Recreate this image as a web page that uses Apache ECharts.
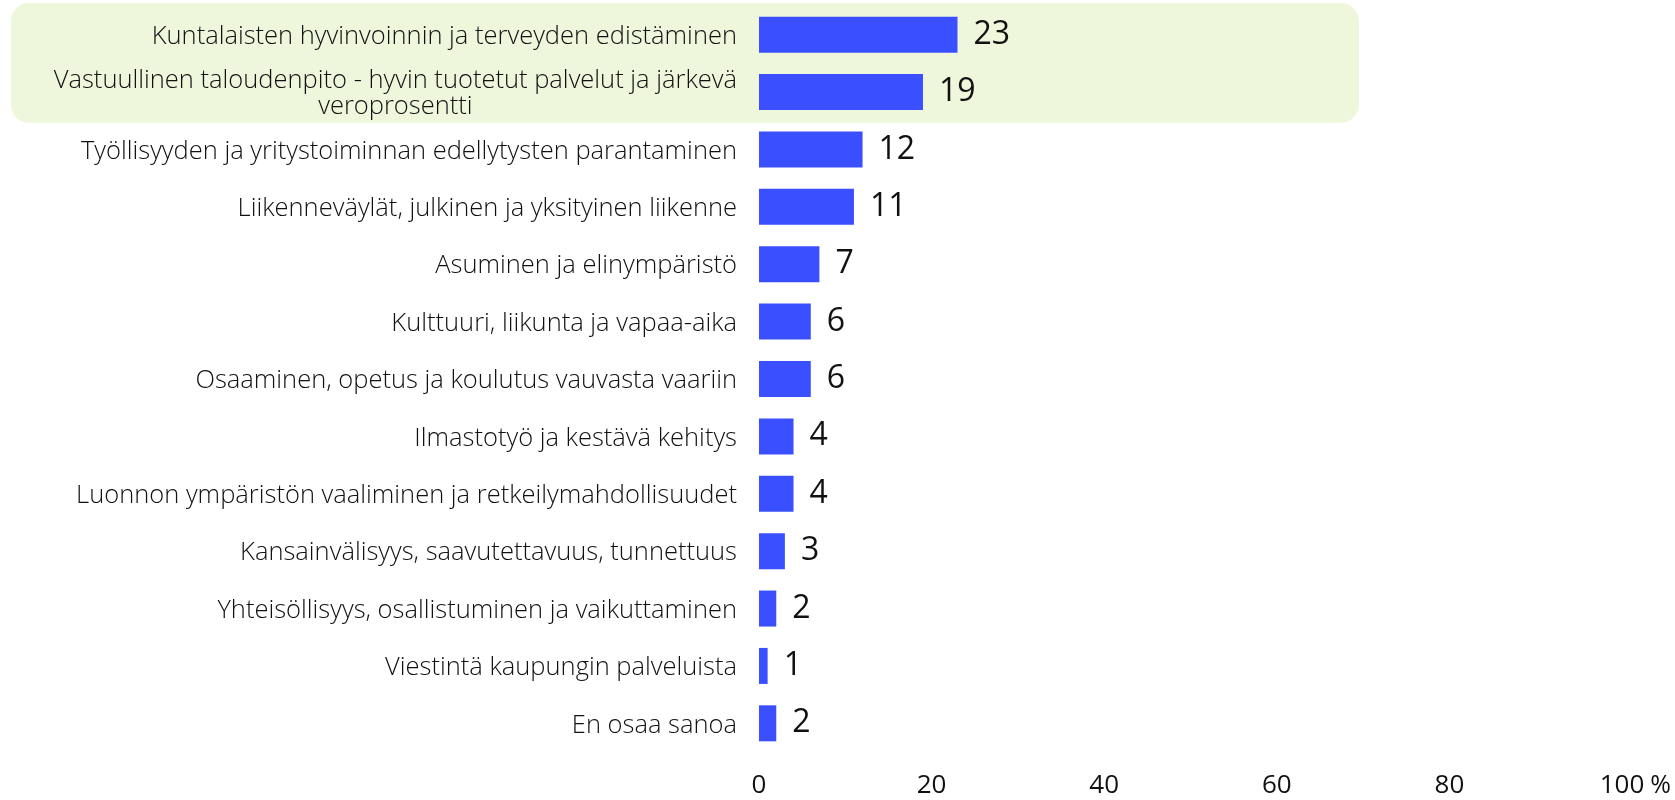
<!DOCTYPE html>
<html>
<head>
<meta charset="utf-8">
<script src="https://cdn.jsdelivr.net/npm/echarts@6/dist/echarts.min.js"></script>
<style>
  html, body { margin: 0; padding: 0; background: #fff; }
  #main { width: 1675px; height: 800px; }
</style>
</head>
<body>
<div id="main"></div>
<script>
const categories = [
  'Kuntalaisten hyvinvoinnin ja terveyden edistäminen',
  'Vastuullinen taloudenpito - hyvin tuotetut palvelut ja järkevä veroprosentti',
  'Työllisyyden ja yritystoiminnan edellytysten parantaminen',
  'Liikenneväylät, julkinen ja yksityinen liikenne',
  'Asuminen ja elinympäristö',
  'Kulttuuri, liikunta ja vapaa-aika',
  'Osaaminen, opetus ja koulutus vauvasta vaariin',
  'Ilmastotyö ja kestävä kehitys',
  'Luonnon ympäristön vaaliminen ja retkeilymahdollisuudet',
  'Kansainvälisyys, saavutettavuus, tunnettuus',
  'Yhteisöllisyys, osallistuminen ja vaikuttaminen',
  'Viestintä kaupungin palveluista',
  'En osaa sanoa'
]
const values = [23, 19, 12, 11, 7, 6, 6, 4, 4, 3, 2, 1, 2]
const highlighted = [0, 1] // rows on the green background

const FONT = '"Open Sans", Lato, sans-serif'
const MAX_CHARS = 64

// break long labels at word boundaries, lines centred like the original
const wrapLabel = v => {
  if (v.length <= MAX_CHARS) return v
  const lines = []
  let cur = ''
  v.split(' ').forEach(w => {
    if (cur && (cur + ' ' + w).length > MAX_CHARS) {
      lines.push(cur)
      cur = w
    } else {
      cur = cur ? cur + ' ' + w : w
    }
  })
  lines.push(cur)
  return lines.map(l => '{c|' + l + '}').join('\n')
}

const chart = echarts.init(document.getElementById('main'))

const option = {
  animation: false,
  grid: {
    left: 759,
    right: 53,
    top: 6,
    bottom: 48
  },
  xAxis: {
    type: 'value',
    min: 0,
    max: 100,
    interval: 20,
    name: '%',
    nameLocation: 'end',
    nameGap: 27,
    nameTextStyle: {
      color: '#111',
      fontFamily: FONT,
      fontSize: 25,
      verticalAlign: 'top',
      padding: [21, 0, 0, 0]
    },
    axisLine: { show: false },
    axisTick: { show: false },
    splitLine: { show: false },
    axisLabel: {
      color: '#111',
      fontFamily: FONT,
      fontSize: 26,
      margin: 21
    }
  },
  yAxis: {
    type: 'category',
    inverse: true,
    data: categories,
    axisLine: { show: false },
    axisTick: { show: false },
    axisLabel: {
      color: '#111',
      fontFamily: FONT,
      fontWeight: 300,
      fontSize: 25.5,
      margin: 22,
      lineHeight: 26,
      padding: [4, 0, 0, 0],
      formatter: wrapLabel,
      rich: {
        c: { align: 'center', color: '#111', fontFamily: FONT, fontWeight: 300, fontSize: 25.5, lineHeight: 26 }
      }
    }
  },
  series: [{
    type: 'bar',
    data: values,
    barWidth: 36,
    itemStyle: { color: '#3A4FFF' },
    label: {
      show: true,
      position: 'right',
      distance: 16,
      color: '#111',
      fontFamily: FONT,
      fontSize: 32,
      padding: [4, 0, 0, 0]
    }
  }]
}

chart.setOption(option)

// green rounded box behind the highlighted rows
const band = (800 - 6 - 48) / categories.length
const yTop = chart.convertToPixel({ yAxisIndex: 0 }, categories[highlighted[0]]) - band / 2
const yBot = chart.convertToPixel({ yAxisIndex: 0 }, categories[highlighted[highlighted.length - 1]]) + band / 2
chart.setOption({
  graphic: [{
    type: 'rect',
    z: -10,
    silent: true,
    shape: { x: 11, y: yTop - 3, width: 1348, height: yBot - yTop + 5, r: 18 },
    style: { fill: '#EEF6DC' }
  }]
})
</script>
</body>
</html>
